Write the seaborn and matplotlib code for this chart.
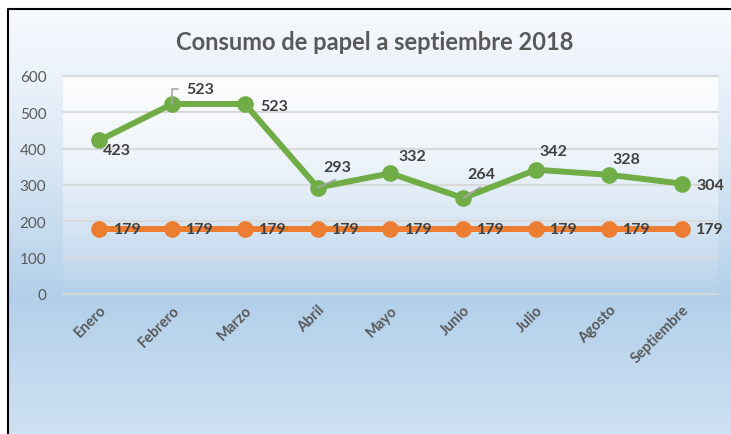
import numpy as np
import matplotlib
matplotlib.use("Agg")
import matplotlib.pyplot as plt
import seaborn as sns
import pandas as pd

# data
meses = ['Enero', 'Febrero', 'Marzo', 'Abril', 'Mayo', 'Junio', 'Julio', 'Agosto', 'Septiembre']
consumo = [423, 523, 523, 293, 332, 264, 342, 328, 304]
meta = [179, 179, 179, 179, 179, 179, 179, 179, 179]

# label offsets in pixels (dx, dy) for the green series; leader line end offsets (None = no leader)
off_consumo = [(17, -10), (28, 15), (29, -2), (20, 21), (22, 17), (18, 24), (17, 19), (18, 16), (29, -1)]
leader = [None, (6, 15), None, (18, 8), None, (17, 11), None, None, None]

df = pd.DataFrame({'mes': meses * 2,
                   'valor': consumo + meta,
                   'serie': ['consumo'] * len(meses) + ['meta'] * len(meses)})

sns.set_style("white")
plt.rcParams['font.family'] = ['Lato', 'DejaVu Sans']

W, H = 731, 435
fig = plt.figure(figsize=(W / 100, H / 100), dpi=100)
fig.patch.set_facecolor('white')

# chart background gradient (frame starts at x=8, y=10)
bg = fig.add_axes([0, 0, 1, 1], zorder=-5)
bg.set_xlim(0, W)
bg.set_ylim(H, 0)
bg.axis('off')
stops_t = [0.0, 0.35, 0.68, 1.0]
stops_c = np.array([[0.97, 0.98, 0.995], [0.86, 0.91, 0.96], [0.70, 0.815, 0.92], [0.81, 0.88, 0.95]])
t = np.linspace(0, 1, 256)
grad = np.stack([np.interp(t, stops_t, stops_c[:, i]) for i in range(3)], axis=1)
bg.imshow(grad[:, None, :], extent=(8, W, H, 10), aspect='auto', interpolation='bilinear')
bg.plot([8, 8, W], [H, 10, 10], color='black', lw=1.5, solid_capstyle='butt')

ax = fig.add_axes([63 / W, 1 - 295 / H, (718 - 63) / W, (295 - 77) / H])
ax.set_facecolor('none')

# plot area lighter fill: white at the top fading out downwards
alpha = np.linspace(0.85, 0.0, 256)
over = np.zeros((256, 1, 4))
over[:, 0, :3] = 1.0
over[:, 0, 3] = alpha
ax.imshow(over, extent=(-0.5, 8.5, 0, 600), origin='upper', aspect='auto', zorder=0,
          interpolation='bilinear')

sns.lineplot(data=df, x='mes', y='valor', hue='serie', sort=False,
             palette={'consumo': '#70AD47', 'meta': '#ED7D31'},
             marker='o', markersize=12, markeredgewidth=0, linewidth=4.3,
             legend=False, ax=ax, zorder=3)

ax.set_xlim(-0.5, 8.5)
ax.set_ylim(0, 600)
ax.set_yticks(range(0, 601, 100))
ax.grid(axis='y', color='#d9d9d9', lw=1.5, zorder=1)
ax.set_axisbelow(True)
for gl in ax.get_ygridlines():
    gl.set_clip_on(False)
for s in ax.spines.values():
    s.set_visible(False)
ax.set_xlabel('')
ax.set_ylabel('')
ax.tick_params(axis='y', length=0, pad=12, labelsize=11, labelcolor='#595959')
ax.tick_params(axis='x', length=0, pad=6, labelsize=10.5, labelcolor='#595959')
ax.set_xticks(range(len(meses)))
ax.set_xticklabels(meses, rotation=45, ha='right', rotation_mode='anchor', fontweight='bold')

lab = dict(ha='center', va='center', fontsize=11.5, fontweight='bold', color='#404040',
           textcoords='offset pixels', zorder=5)
for i, v in enumerate(consumo):
    if leader[i] is not None:
        cs = 'angle,angleA=0,angleB=90,rad=0' if i == 1 else 'arc3'
        ax.annotate('', (i, v), xytext=leader[i], textcoords='offset pixels', zorder=4,
                    arrowprops=dict(arrowstyle='-', color='#a6a6a6', lw=1.2,
                                    shrinkA=0, shrinkB=0, connectionstyle=cs))
    ax.annotate(str(v), (i, v), xytext=off_consumo[i], **lab)
for i, v in enumerate(meta):
    ax.annotate(str(v), (i, v), xytext=(28, 0), **lab)

fig.text(375 / W, 1 - 42 / H, 'Consumo de papel a septiembre 2018', ha='center', va='center',
         fontsize=17, fontweight='bold', color='#595959')

fig.savefig('out.png', dpi=100)
